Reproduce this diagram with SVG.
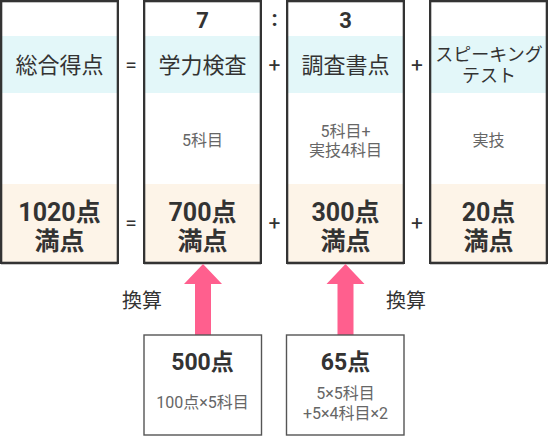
<svg xmlns="http://www.w3.org/2000/svg" width="549" height="437" viewBox="0 0 549 437">
<style>
text{font-family:Roboto,"Noto Sans CJK JP",sans-serif;fill:#333;text-anchor:middle}
.h{font-size:22px}
.k{font-size:18px}
.b{font-size:25px;font-weight:bold}
.t{font-size:22px;font-weight:bold}
.s{font-size:16px;fill:#666}
.op{font-size:21px}
.col{stroke:#333;stroke-width:2.3;fill:none}
.box{stroke:#555;stroke-width:1.4;fill:#fff}
.blue{fill:#e3f7f9}
.beige{fill:#fdf4e8}
.arr{fill:#ff5f8e}
</style>
<rect width="549" height="437" fill="#fff"/>
<g id="shadows" fill="#c8c8c8">
<rect x="1" y="264" width="117" height="1"/>
<rect x="144" y="264" width="117" height="1"/>
<rect x="287" y="264" width="117" height="1"/>
<rect x="430" y="264" width="117" height="1"/>
</g>
<g id="col-total">
<rect class="blue" x="2" y="36" width="115" height="57"/>
<rect class="beige" x="2" y="184" width="115" height="78"/>
<rect class="col" x="1.15" y="1.15" width="116.7" height="261.7"/>
<text class="h" x="59.5" y="73">総合得点</text>
<text class="b" x="59.5" y="221">1020点</text>
<text class="b" x="59.5" y="250">満点</text>
</g>
<g id="col-gakuryoku">
<rect class="blue" x="145" y="36" width="115" height="57"/>
<rect class="beige" x="145" y="184" width="115" height="78"/>
<rect class="col" x="144.15" y="1.15" width="116.7" height="261.7"/>
<text class="t" x="202.5" y="28">7</text>
<text class="h" x="202.5" y="73">学力検査</text>
<text class="s" x="202.5" y="146">5科目</text>
<text class="b" x="202.5" y="221">700点</text>
<text class="b" x="202.5" y="250">満点</text>
</g>
<g id="col-chosasho">
<rect class="blue" x="288" y="36" width="115" height="57"/>
<rect class="beige" x="288" y="184" width="115" height="78"/>
<rect class="col" x="287.15" y="1.15" width="116.7" height="261.7"/>
<text class="t" x="345.5" y="28">3</text>
<text class="h" x="345.5" y="73">調査書点</text>
<text class="s" x="345.5" y="137">5科目+</text>
<text class="s" x="345.5" y="156">実技4科目</text>
<text class="b" x="345.5" y="221">300点</text>
<text class="b" x="345.5" y="250">満点</text>
</g>
<g id="col-speaking">
<rect class="blue" x="431" y="36" width="115" height="57"/>
<rect class="beige" x="431" y="184" width="115" height="78"/>
<rect class="col" x="430.15" y="1.15" width="116.7" height="261.7"/>
<text class="k" x="489" y="61">スピーキング</text>
<text class="k" x="489" y="82">テスト</text>
<text class="s" x="488.5" y="146">実技</text>
<text class="b" x="488.5" y="221">20点</text>
<text class="b" x="488.5" y="250">満点</text>
</g>
<g id="operators">
<text class="t" x="274.5" y="25.5">:</text>
<text class="op" x="131" y="72">=</text>
<text class="op" x="274.5" y="72">+</text>
<text class="op" x="417" y="72">+</text>
<text class="op" x="131" y="230">=</text>
<text class="op" x="274.5" y="230">+</text>
<text class="op" x="417" y="230">+</text>
</g>
<g id="connectors">
<polygon class="arr" points="203,264 222,284 211,284 211,335 195,335 195,284 184,284"/>
<polygon class="arr" points="345.5,264 364.5,284 353.5,284 353.5,335 337.5,335 337.5,284 326.5,284"/>
<text class="op" style="font-size:20px" x="142" y="308">換算</text>
<text class="op" style="font-size:20px" x="406" y="308">換算</text>
</g>
<g id="box-500">
<rect class="box" x="144" y="335" width="117.5" height="100"/>
<text class="t" style="font-size:23px" x="202.5" y="370">500点</text>
<text class="s" x="202.5" y="408">100点×5科目</text>
</g>
<g id="box-65">
<rect class="box" x="286.5" y="335" width="117.5" height="100"/>
<text class="t" style="font-size:23px" x="345.5" y="370">65点</text>
<text class="s" x="345.5" y="398.5">5×5科目</text>
<text class="s" x="345.5" y="419">+5×4科目×2</text>
</g>
</svg>
